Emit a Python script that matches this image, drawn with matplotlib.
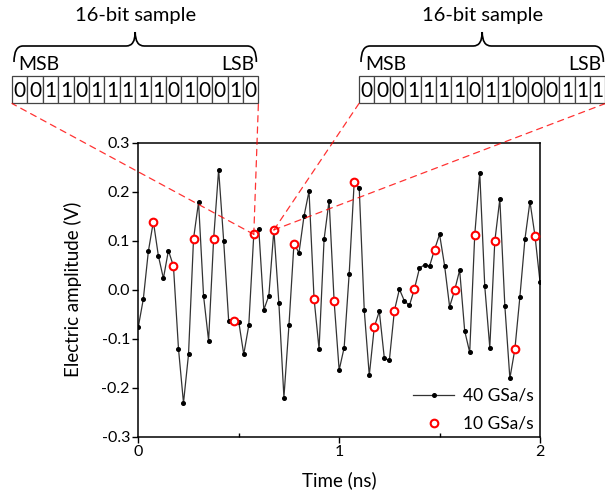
import numpy as np
import matplotlib
matplotlib.use("Agg")
import matplotlib.pyplot as plt
from matplotlib.path import Path
from matplotlib.patches import PathPatch, Rectangle, ConnectionPatch

plt.rcParams['font.family'] = ['Lato', 'DejaVu Sans']

# -----------------------------
# Data
# -----------------------------
dt = 0.025  # ns, 40 GSa/s
v40 = [-0.076, -0.019, 0.078, 0.139, 0.069, 0.023, 0.080, 0.048, -0.120, -0.231,
       -0.132, 0.104, 0.179, -0.013, -0.104, 0.103, 0.245, 0.100, -0.064, -0.064,
       -0.065, -0.132, -0.073, 0.113, 0.123, -0.041, -0.012, 0.122, -0.028, -0.220,
       -0.073, 0.094, 0.075, 0.150, 0.201, -0.018, -0.121, 0.103, 0.182, -0.024,
       -0.164, -0.118, 0.033, 0.220, 0.207, -0.042, -0.175, -0.076, -0.044, -0.140,
       -0.144, -0.043, 0.001, -0.023, -0.032, 0.002, 0.044, 0.051, 0.048, 0.082,
       0.113, 0.049, -0.035, -0.001, 0.040, -0.084, -0.128, 0.111, 0.239, 0.007,
       -0.118, 0.099, 0.185, -0.033, -0.181, -0.121, -0.014, 0.103, 0.180, 0.110,
       0.016]
t40 = np.arange(len(v40)) * dt
sub_start, sub_step = 3, 4          # 10 GSa/s = every 4th sample
t10 = t40[sub_start::sub_step]
v10 = np.array(v40)[sub_start::sub_step]

bits_left = "0011011111010010"
bits_right = "0001111011000111"
zoom_left = 23    # sample index shown in the left word
zoom_right = 27   # sample index shown in the right word

# -----------------------------
# Figure
# -----------------------------
W, H = 605, 494
fig = plt.figure(figsize=(W / 100, H / 100), dpi=100)
ax = fig.add_axes([138.3 / W, 1 - 436.7 / H, (540 - 138.3) / W, (436.7 - 142.7) / H])

ax.plot(t40, v40, '-', color='#333333', lw=0.9, marker='o', ms=2.6,
        mfc='black', mec='black', label='40 GSa/s', zorder=2)
ax.plot(t10, v10, 'o', ls='none', ms=5.5, mfc='white', mec='red', mew=1.5,
        label='10 GSa/s', zorder=3)

ax.set_xlim(0, 2)
ax.set_ylim(-0.3, 0.3)
ax.set_xticks([0, 1, 2])
ax.set_xticklabels(['0', '1', '2'])
ax.set_xticks([0.5, 1.5], minor=True)
ax.set_yticks(np.arange(-0.3, 0.31, 0.1))
ax.set_yticklabels([f"{v:.1f}" for v in np.arange(-0.3, 0.31, 0.1)])
ax.tick_params(axis='both', which='major', direction='out', length=4, width=1,
               labelsize=11.5, pad=2)
ax.tick_params(axis='x', which='minor', direction='in', length=3, width=1)
for s in ax.spines.values():
    s.set_linewidth(1.1)
ax.set_xlabel('Time (ns)', fontsize=13.5, labelpad=9)
ax.set_ylabel('Electric amplitude (V)', fontsize=13.5, labelpad=14)
ax.legend(loc='lower right', bbox_to_anchor=(1.015, -0.025), frameon=False,
          fontsize=12.5, handlelength=2.4, handletextpad=0.5, labelspacing=0.7,
          borderaxespad=0.3)

# -----------------------------
# Overlay for the bit words (pixel coordinates)
# -----------------------------
ov = fig.add_axes([0, 0, 1, 1])
ov.set_xlim(0, W)
ov.set_ylim(H, 0)
ov.axis('off')
ov.patch.set_visible(False)

cell = 15.4
box_top, box_bot = 76.5, 103.5


def brace(x0, x1, y_end=62, y_mid=46, y_tip=32, r=9):
    xc = (x0 + x1) / 2
    verts = [(x0, y_end), (x0, y_mid), (x0 + r, y_mid),
             (xc - r, y_mid), (xc, y_mid), (xc, y_tip),
             (xc, y_mid), (xc + r, y_mid),
             (x1 - r, y_mid), (x1, y_mid), (x1, y_end)]
    codes = [Path.MOVETO, Path.CURVE3, Path.CURVE3,
             Path.LINETO, Path.CURVE3, Path.CURVE3,
             Path.CURVE3, Path.CURVE3,
             Path.LINETO, Path.CURVE3, Path.CURVE3]
    ov.add_patch(PathPatch(Path(verts, codes), fc='none', ec='black', lw=1.2))


def word(x0, bits, idx):
    x1 = x0 + cell * len(bits)
    for k, b in enumerate(bits):
        ov.add_patch(Rectangle((x0 + k * cell, box_top), cell, box_bot - box_top,
                               fc='white', ec='#444444', lw=0.9))
        ov.text(x0 + (k + 0.5) * cell, (box_top + box_bot) / 2 + 1, b,
                ha='center', va='center', fontsize=15)
    brace(x0 + 2, x1 - 2)
    ov.text((x0 + x1) / 2, 16, '16-bit sample', ha='center', va='center', fontsize=14.5)
    ov.text(x0 + 6, 64, 'MSB', ha='left', va='center', fontsize=14)
    ov.text(x1 - 4, 64, 'LSB', ha='right', va='center', fontsize=14)
    for xb in (x0, x1):
        ov.add_artist(ConnectionPatch(xyA=(t40[idx], v40[idx]), coordsA=ax.transData,
                                      xyB=(xb, box_bot), coordsB=ov.transData,
                                      color='red', lw=0.9, ls=(0, (5, 4)), alpha=0.8,
                                      zorder=1))


word(12, bits_left, zoom_left)
word(359, bits_right, zoom_right)

fig.savefig('out.png', dpi=100)
